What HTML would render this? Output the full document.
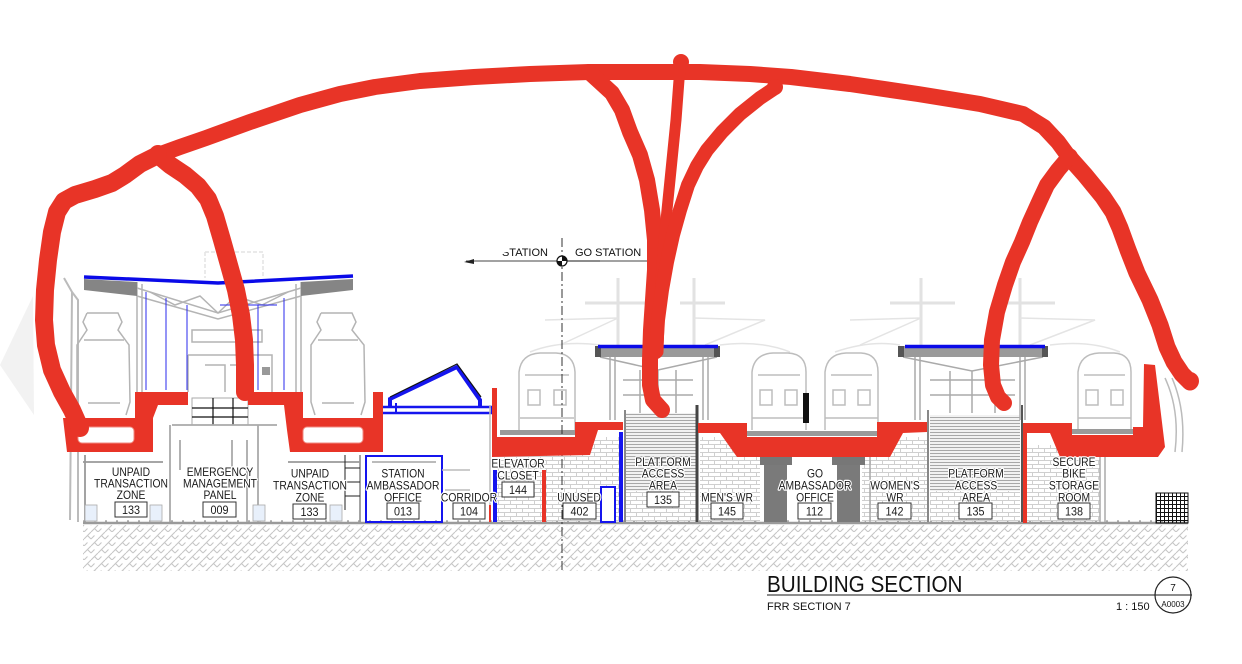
<!DOCTYPE html>
<html><head><meta charset="utf-8"><style>
html,body{margin:0;padding:0;background:#fff;}
body{width:1242px;height:664px;overflow:hidden;}
svg{display:block;}
.l{font-family:"Liberation Sans",Arial,sans-serif;font-size:12px;fill:#1a1a1a;text-anchor:middle;paint-order:stroke;stroke:#fff;stroke-width:2.5px;stroke-linejoin:round;}
.n{font-family:"Liberation Sans",Arial,sans-serif;font-size:12px;fill:#1a1a1a;text-anchor:middle;}
.t{font-family:"Liberation Sans",Arial,sans-serif;fill:#111;}
</style></head><body>
<svg width="1242" height="664" viewBox="0 0 1242 664" xmlns="http://www.w3.org/2000/svg">
<defs>
<pattern id="hb" width="14" height="14" patternUnits="userSpaceOnUse">
<path d="M0 7 L7 0 M7 14 L14 7 M0 14 L3.5 10.5 M7 7 L10.5 3.5 M3.5 3.5 L7 7 M10.5 10.5 L14 14" stroke="#c6c6c6" stroke-width="1.1" fill="none"/>
</pattern>
<pattern id="brick" width="12" height="8" patternUnits="userSpaceOnUse">
<path d="M0 0.5 H12 M0 4.5 H12 M0.5 0.5 V4.5 M6.5 4.5 V8" stroke="#cfcfcf" stroke-width="1" fill="none"/>
</pattern>
<pattern id="stair" width="6" height="3" patternUnits="userSpaceOnUse">
<rect width="6" height="3" fill="#f2f2f2"/>
<path d="M0 0.5 H6" stroke="#a8a8a8" stroke-width="1"/>
</pattern>
<pattern id="grid" width="4" height="4" patternUnits="userSpaceOnUse">
<path d="M0 0.5 H4 M0.5 0 V4" stroke="#111" stroke-width="1"/>
</pattern>
</defs>

<!-- faint left shapes -->
<polygon points="0,365 33,296 34,415" fill="#f2f2f2"/>
<path d="M64,278 L72,292 L70,520 M72,292 L78,300 L78,522" stroke="#bbb" stroke-width="2" fill="none"/>

<!-- ghost catenary -->
<g stroke="#e2e2e2" stroke-width="3" fill="none">
<path d="M618,278 V345 M694,278 V345 M921,278 V345 M1020,278 V345"/>
<path d="M585,303 H650 M680,303 H725 M890,303 H955 M1005,303 H1055"/>
</g>
<g stroke="#e4e4e4" stroke-width="1.5" fill="none">
<path d="M545,320 L618,318 L560,345 M694,318 L765,320 L705,345 M850,320 L921,318 L860,345 M1020,318 L1095,320 L1030,345"/>
<path d="M530,352 Q560,340 600,345 M720,345 Q760,340 790,352 M835,352 Q870,340 900,345 M1050,345 Q1090,340 1120,352"/>
<path d="M205,252 H263 V278 M205,252 V278" stroke-dasharray="4 2"/>
</g>

<!-- ground -->
<rect x="83" y="525" width="1105" height="46" fill="url(#hb)"/>
<line x1="83" y1="523" x2="1188" y2="523" stroke="#9a9a9a" stroke-width="2.5"/>
<line x1="83" y1="521" x2="1188" y2="521" stroke="#555" stroke-width="0.8" stroke-dasharray="2 9"/>

<!-- brick areas -->
<rect x="497" y="437" width="125" height="85" fill="url(#brick)"/>
<rect x="700" y="437" width="60" height="85" fill="url(#brick)"/>
<rect x="862" y="437" width="66" height="85" fill="url(#brick)"/>
<rect x="1027" y="445" width="73" height="77" fill="url(#brick)"/>
<rect x="625" y="490" width="72" height="32" fill="url(#brick)"/>
<rect x="930" y="490" width="90" height="32" fill="url(#brick)"/>
<!-- stairs -->
<rect x="625" y="413" width="72" height="78" fill="url(#stair)"/>
<rect x="930" y="415" width="90" height="76" fill="url(#stair)"/>
<line x1="697" y1="405" x2="697" y2="522" stroke="#444" stroke-width="3"/>
<line x1="1022" y1="405" x2="1022" y2="522" stroke="#555" stroke-width="2"/>
<line x1="625" y1="410" x2="625" y2="522" stroke="#888" stroke-width="2"/>
<line x1="928" y1="410" x2="928" y2="522" stroke="#888" stroke-width="2"/>

<!-- LEFT BUILDING structure -->
<g stroke="#b4b4b4" fill="none" stroke-width="1.5">
<path d="M137,282 V392 M142,284 V392 M296,284 V392 M301,282 V392"/>
<path d="M137,288 L218,313 L301,288 M137,296 L218,319 L301,296"/>
<path d="M150,292 L175,305 L200,296 L218,313 L236,296 L262,305 L288,292"/>
<path d="M192,330 H262 V342 H192 Z"/>
<path d="M188,355 H272 V392 M188,355 V392 M205,365 H225 V392 M230,365 H250 V392"/>
<path d="M87,313 H118 L122,322 L118,330 L129,345 L130,402 L126,415 M87,313 L83,322 L87,330 L77,345 L77,402 L81,415"/>
<path d="M84,340 H124 M88,403 H120"/>
<path d="M321,313 H352 L356,322 L352,330 L364,345 L365,402 L361,415 M321,313 L317,322 L321,330 L311,345 L311,402 L315,415"/>
<path d="M318,340 H358 M322,403 H354"/>
</g>
<g stroke="#2a2aee" stroke-width="1" fill="none">
<path d="M146,292 V390 M166,298 V390 M187,305 V390 M258,305 V390 M284,298 V390 M220,305 H277"/>
</g>
<polygon points="84,279 137,282 137,296 84,290" fill="#858585"/>
<polygon points="301,282 353,279 353,290 301,296" fill="#858585"/>
<polyline points="84,277 218,283 353,276" stroke="#0a0ae8" stroke-width="3.5" fill="none"/>
<rect x="262" y="367" width="8" height="8" fill="#999"/>
<!-- emergency grid -->
<rect x="192" y="398" width="56" height="27" fill="#fff" stroke="#aaa"/>
<path d="M213,398 V425 M233,398 V425 M192,408 H248 M192,417 H248" stroke="#111" stroke-width="1.2"/>
<path d="M172,425 H277 M170,425 V522 M258,425 V522 M247,440 V522 M180,440 V470 M232,440 V470" stroke="#aaa" stroke-width="1.8" fill="none"/>
<path d="M83,462 H163 M288,462 H360 M85,455 V522 M360,455 V522" stroke="#999" stroke-width="1.8" fill="none"/>
<path d="M345,455 V510 M345,468 H360 M345,482 H360 M345,496 H360" stroke="#222" stroke-width="1"/>
<g fill="#e8f0fb" stroke="#aaa" stroke-width="0.8">
<rect x="85" y="505" width="12" height="16"/><rect x="150" y="505" width="12" height="16"/>
<rect x="253" y="505" width="12" height="16"/><rect x="330" y="505" width="12" height="16"/>
</g>

<!-- STATION AMBASSADOR office -->
<rect x="366" y="456" width="76" height="66" fill="none" stroke="#1515ee" stroke-width="2"/>
<line x1="372" y1="462" x2="436" y2="462" stroke="#bbb" stroke-width="2"/>
<rect x="378" y="407" width="114" height="6" fill="#fff" stroke="#1515ee" stroke-width="2.5"/>
<polyline points="390,407 390,399 457,367 480,400 480,407" stroke="#1515ee" stroke-width="4" fill="none"/>
<polyline points="390,397 457,364 481,397" stroke="#111" stroke-width="1.2" fill="none"/>
<line x1="396" y1="403" x2="396" y2="413" stroke="#1515ee" stroke-width="2"/>
<path d="M442,470 H470 M445,490 H470 M490,405 V522" stroke="#bbb" stroke-width="1.5" fill="none"/>

<!-- middle trains -->
<g stroke="#bdbdbd" stroke-width="1.5" fill="none">
<path d="M519,430 V372 Q521,354 540,353 H556 Q574,354 575,372 V430 M525,375 H569 M528,390 H540 V405 H528 Z M554,390 H566 V405 H554 Z M520,418 H574"/>
<path d="M752,430 V372 Q754,354 773,353 H788 Q806,354 806,372 V430 M758,375 H800 M760,390 H772 V405 H760 Z M785,390 H797 V405 H785 Z M752,418 H806"/>
<path d="M825,430 V372 Q827,354 846,353 H861 Q878,354 878,372 V430 M831,375 H872 M833,390 H845 V405 H833 Z M858,390 H870 V405 H858 Z M825,418 H878"/>
<path d="M1078,430 V372 Q1080,354 1099,353 H1114 Q1131,354 1131,372 V430 M1084,375 H1125 M1086,390 H1098 V405 H1086 Z M1111,390 H1123 V405 H1111 Z M1078,418 H1131"/>
</g>
<rect x="803" y="393" width="6" height="30" fill="#111"/>
<rect x="500" y="430" width="75" height="5" fill="#9a9a9a"/>
<rect x="747" y="431" width="130" height="5" fill="#9a9a9a"/>
<rect x="1072" y="429" width="61" height="5" fill="#9a9a9a"/>

<!-- platform shelters -->
<g stroke="#aaa" stroke-width="1.5" fill="none">
<path d="M610,357 V420 M615,357 V420 M703,357 V420 M708,357 V420"/>
<path d="M600,357 L658,370 L717,357 M623,380 H693 M623,395 H693 M640,370 V413 M658,370 V413 M676,370 V413"/>
<path d="M915,357 V420 M920,357 V420 M1020,357 V420 M1025,357 V420"/>
<path d="M903,357 L972,371 L1043,357 M930,380 H1015 M930,395 H1015 M950,371 V413 M972,371 V413 M995,371 V413"/>
</g>
<rect x="595" y="346" width="125" height="11" fill="#9a9a9a"/>
<rect x="595" y="346" width="6" height="11" fill="#555"/>
<rect x="714" y="346" width="6" height="11" fill="#555"/>
<line x1="598" y1="346.5" x2="718" y2="346.5" stroke="#0a0ae8" stroke-width="3.5"/>
<rect x="898" y="346" width="150" height="11" fill="#9a9a9a"/>
<rect x="898" y="346" width="6" height="11" fill="#555"/>
<rect x="1042" y="346" width="6" height="11" fill="#555"/>
<line x1="905" y1="346.5" x2="1045" y2="346.5" stroke="#0a0ae8" stroke-width="3.5"/>

<!-- GO ambassador columns -->
<rect x="760" y="457" width="32" height="8" fill="#777"/>
<rect x="764" y="465" width="23" height="57" fill="#7a7a7a"/>
<rect x="832" y="457" width="33" height="8" fill="#777"/>
<rect x="837" y="465" width="23" height="57" fill="#7a7a7a"/>
<path d="M760,440 H870 M870,440 V522 M1100,445 V522 M1105,445 V522" stroke="#aaa" stroke-width="1.5" fill="none"/>
<path d="M1165,378 Q1180,410 1175,452 M1172,378 Q1186,410 1182,452" stroke="#bbb" stroke-width="1.5" fill="none"/>
<rect x="1156" y="493" width="32" height="30" fill="url(#grid)"/>
<rect x="1156" y="493" width="32" height="30" fill="none" stroke="#111" stroke-width="1"/>

<!-- blue verticals middle -->
<rect x="493" y="470" width="4" height="52" fill="#1515ee"/>
<rect x="619" y="432" width="4" height="90" fill="#1515ee"/>
<rect x="601" y="487" width="14" height="35" fill="#fff" stroke="#1515ee" stroke-width="2"/>
<rect x="542" y="470" width="4" height="52" fill="#e83427"/>
<rect x="489" y="505" width="2" height="17" fill="#e83427"/>

<!-- section marker -->
<line x1="562" y1="238" x2="562" y2="572" stroke="#333" stroke-width="1" stroke-dasharray="9 3 2 3"/>
<line x1="466" y1="261" x2="648" y2="261" stroke="#444" stroke-width="1"/>
<line x1="562" y1="261" x2="600" y2="261" stroke="#666" stroke-width="1.5"/>
<polygon points="464,262 474,259 474,264" fill="#222"/>
<circle cx="562" cy="261" r="5" fill="#fff" stroke="#111" stroke-width="1.2"/>
<path d="M562,256 A5,5 0 0 1 567,261 L562,261 Z M562,266 A5,5 0 0 1 557,261 L562,261 Z" fill="#111"/>
<text class="t" x="548" y="256" font-size="11" text-anchor="end">STATION</text>
<rect x="500" y="247" width="9" height="5" fill="#fff"/>
<text class="t" x="575" y="256" font-size="11">GO STATION</text>

<!-- RED SLABS -->
<g fill="#e83427">
<path d="M135,392 L188,392 L188,405 L158,405 L153,418 L153,452 L67,452 L63,418 L135,418 Z"/>
<path d="M248,392 L303,392 L303,418 L373,418 L373,392 L383,392 L383,452 L290,452 L287,430 L284,405 L248,405 Z"/>
<path d="M492,388 L497,388 L497,437 L575,437 L575,422 L623,422 L623,430 L598,430 L590,455 L492,457 Z"/>
<path d="M698,423 L747,423 L747,437 L877,437 L877,422 L927,422 L927,432 L903,433 L890,457 L737,457 L720,433 L698,433 Z"/>
<path d="M1023,423 L1072,423 L1072,435 L1133,435 L1133,427 L1143,427 L1144,364 L1155,365 L1165,447 L1158,457 L1060,457 L1050,433 L1027,433 L1027,523 L1023,523 Z"/>
</g>
<rect x="78" y="427" width="56" height="16" rx="4" fill="#fff" stroke="#f08a80" stroke-width="1"/>
<rect x="303" y="427" width="60" height="16" rx="4" fill="#fff" stroke="#f08a80" stroke-width="1"/>

<!-- RED MARKER STROKES -->
<g fill="none" stroke="#e83427" stroke-linecap="round" stroke-linejoin="round">
<polyline stroke-width="18" points="80,428 72,410 62,392 52,370 46,345 44,320 45,290 48,260 52,232 57,212 64,201 75,195 95,189 112,183 125,175 140,164 158,155"/>
<polyline stroke-width="16" points="158,155 180,147 206,138 250,122 300,105 340,94 375,87 420,81 474,77 530,74 589,72 650,72 700,72 750,74 791,77 850,84 918,94 980,104 1023,114 1044,127 1058,142 1069,157"/>
<polyline stroke-width="17" points="1069,157 1085,175 1103,197 1113,212 1120,228 1128,250 1137,273 1150,300 1160,325 1167,347 1174,362 1182,374 1190,382"/>
<polyline stroke-width="16" points="1069,157 1058,170 1047,185 1040,200 1030,222 1022,242 1013,262 1005,285 997,312 992,340 991,365 993,385 998,397 1004,403"/>
<polyline stroke-width="18" points="158,155 170,165 185,175 198,186 208,199 215,216 222,240 229,265 236,290 241,315 244,340 245,365 245,392"/>
<polyline stroke-width="16" points="589,72 600,82 612,93 622,110 630,132 640,155 647,180 652,210 655,240 655,270 653,300 651,330 650,360 650,385 653,400 662,410"/>
<polyline stroke-width="11" points="681,62 679,80 676,120 672,160 668,200 664,240 661,280 659,320 658,352"/>
<polyline stroke-width="14" points="775,88 760,98 740,114 722,132 707,150 697,166 688,185 680,210 673,235 667,262 662,290 658,320 656,352"/>
</g>
<g fill="#e83427">
<circle cx="158" cy="154" r="9"/><circle cx="681" cy="62" r="8"/><circle cx="775" cy="87" r="8"/><circle cx="1069" cy="157" r="9"/><circle cx="1190" cy="381" r="9"/>
</g>

<!-- ROOM LABELS -->
<g>
<g transform="translate(131,476) scale(0.86,1)"><text class="l">UNPAID</text></g>
<g transform="translate(131,487.5) scale(0.86,1)"><text class="l">TRANSACTION</text></g>
<g transform="translate(131,499) scale(0.86,1)"><text class="l">ZONE</text></g>

<g transform="translate(220,476) scale(0.86,1)"><text class="l">EMERGENCY</text></g>
<g transform="translate(220,487.5) scale(0.86,1)"><text class="l">MANAGEMENT</text></g>
<g transform="translate(220,499) scale(0.86,1)"><text class="l">PANEL</text></g>

<g transform="translate(310,477.6) scale(0.86,1)"><text class="l">UNPAID</text></g>
<g transform="translate(310,489.3) scale(0.86,1)"><text class="l">TRANSACTION</text></g>
<g transform="translate(310,501.6) scale(0.86,1)"><text class="l">ZONE</text></g>

<g transform="translate(403,477.6) scale(0.86,1)"><text class="l">STATION</text></g>
<g transform="translate(403,489.3) scale(0.86,1)"><text class="l">AMBASSADOR</text></g>
<g transform="translate(403,501.6) scale(0.86,1)"><text class="l">OFFICE</text></g>

<g transform="translate(469,501.6) scale(0.86,1)"><text class="l">CORRIDOR</text></g>

<g transform="translate(518,467.6) scale(0.86,1)"><text class="l">ELEVATOR</text></g>
<g transform="translate(518,479.3) scale(0.86,1)"><text class="l">CLOSET</text></g>

<g transform="translate(579,501.6) scale(0.86,1)"><text class="l">UNUSED</text></g>

<g transform="translate(663,466) scale(0.86,1)"><text class="l">PLATFORM</text></g>
<g transform="translate(663,477.6) scale(0.86,1)"><text class="l">ACCESS</text></g>
<g transform="translate(663,489.3) scale(0.86,1)"><text class="l">AREA</text></g>

<g transform="translate(727,501.6) scale(0.86,1)"><text class="l">MEN'S WR</text></g>

<g transform="translate(815,477.6) scale(0.86,1)"><text class="l">GO</text></g>
<g transform="translate(815,489.3) scale(0.86,1)"><text class="l">AMBASSADOR</text></g>
<g transform="translate(815,501.6) scale(0.86,1)"><text class="l">OFFICE</text></g>

<g transform="translate(895,489.3) scale(0.86,1)"><text class="l">WOMEN'S</text></g>
<g transform="translate(895,501.6) scale(0.86,1)"><text class="l">WR</text></g>

<g transform="translate(976,477.6) scale(0.86,1)"><text class="l">PLATFORM</text></g>
<g transform="translate(976,489.3) scale(0.86,1)"><text class="l">ACCESS</text></g>
<g transform="translate(976,501.6) scale(0.86,1)"><text class="l">AREA</text></g>

<g transform="translate(1074,466) scale(0.86,1)"><text class="l">SECURE</text></g>
<g transform="translate(1074,477.6) scale(0.86,1)"><text class="l">BIKE</text></g>
<g transform="translate(1074,489.3) scale(0.86,1)"><text class="l">STORAGE</text></g>
<g transform="translate(1074,501.6) scale(0.86,1)"><text class="l">ROOM</text></g>
</g>

<!-- number boxes -->
<g fill="#fff" stroke="#333" stroke-width="1">
<rect x="115" y="502" width="32" height="15"/>
<rect x="203" y="502" width="33" height="15"/>
<rect x="293" y="504" width="33" height="15"/>
<rect x="387" y="503" width="32" height="16"/>
<rect x="453" y="503" width="32" height="16"/>
<rect x="502" y="482" width="32" height="15"/>
<rect x="563" y="503" width="33" height="16"/>
<rect x="647" y="492" width="32" height="15"/>
<rect x="711" y="503" width="32" height="16"/>
<rect x="798" y="503" width="33" height="16"/>
<rect x="878" y="503" width="33" height="16"/>
<rect x="959" y="503" width="33" height="16"/>
<rect x="1058" y="503" width="32" height="16"/>
</g>
<g>
<g transform="translate(131,514) scale(0.9,1)"><text class="n">133</text></g>
<g transform="translate(219.5,514) scale(0.9,1)"><text class="n">009</text></g>
<g transform="translate(309.5,516) scale(0.9,1)"><text class="n">133</text></g>
<g transform="translate(403,515.5) scale(0.9,1)"><text class="n">013</text></g>
<g transform="translate(469,515.5) scale(0.9,1)"><text class="n">104</text></g>
<g transform="translate(518,494) scale(0.9,1)"><text class="n">144</text></g>
<g transform="translate(579.5,515.5) scale(0.9,1)"><text class="n">402</text></g>
<g transform="translate(663,504) scale(0.9,1)"><text class="n">135</text></g>
<g transform="translate(727,515.5) scale(0.9,1)"><text class="n">145</text></g>
<g transform="translate(814.5,515.5) scale(0.9,1)"><text class="n">112</text></g>
<g transform="translate(894.5,515.5) scale(0.9,1)"><text class="n">142</text></g>
<g transform="translate(975.5,515.5) scale(0.9,1)"><text class="n">135</text></g>
<g transform="translate(1074,515.5) scale(0.9,1)"><text class="n">138</text></g>
</g>

<!-- TITLE BLOCK -->
<g transform="translate(767,592) scale(0.9,1)"><text class="t" x="0" y="0" font-size="23">BUILDING SECTION</text></g>
<line x1="767" y1="595" x2="1192" y2="595" stroke="#666" stroke-width="1.5"/>
<text class="t" x="767" y="610" font-size="11" fill="#222">FRR SECTION 7</text>
<text class="t" x="1116" y="610" font-size="11" fill="#222">1 : 150</text>
<circle cx="1173" cy="595" r="18" fill="none" stroke="#222" stroke-width="1.2"/>
<text class="t" x="1173" y="591" font-size="10" text-anchor="middle">7</text>
<text class="t" x="1173" y="607" font-size="8" text-anchor="middle">A0003</text>
</svg>
</body></html>
